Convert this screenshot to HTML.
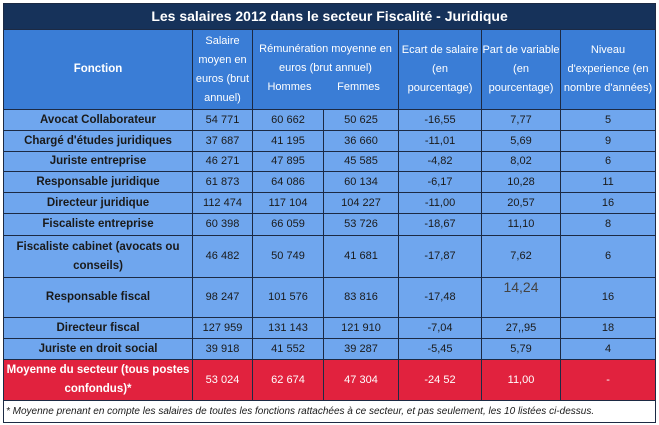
<!DOCTYPE html>
<html><head><meta charset="utf-8"><style>
body{margin:0;background:#fff;width:659px;height:425px;overflow:hidden;font-family:"Liberation Sans",Arial,sans-serif}
table{position:absolute;left:3px;top:3px;border-collapse:collapse;table-layout:fixed;width:652px}
td{border:1px solid #1c2a44;padding:0;text-align:center;font-size:11px;color:#1a1a1a;background:#6fa6ee;line-height:19px;overflow:hidden}
td.f{font-weight:bold;font-size:11.5px}
tr.t td{background:#16325a;color:#fff;font-weight:bold;font-size:14px;height:25px}
tr.h td{background:#3a7dd6;color:#fff;line-height:19px;height:79px}
tr.h td.f{font-size:11.5px}
tr.r td{background:#e1223e;color:#fff}
tr.n td{background:#fff;text-align:left;font-style:italic;font-size:10px;padding-left:2px;height:21px}
.hf{white-space:nowrap;font-size:0}
.hf span{display:inline-block;font-size:11px}
</style></head><body>
<table>
<col style="width:189px"><col style="width:60px"><col style="width:71px"><col style="width:75px"><col style="width:83px"><col style="width:79px"><col style="width:95px">
<tr class="t"><td colspan="7">Les salaires 2012 dans le secteur Fiscalité - Juridique</td></tr>
<tr class="h"><td class="f">Fonction</td><td>Salaire moyen en euros (brut annuel)</td><td colspan="2">Rémunération moyenne en euros (brut annuel)<div class="hf"><span style="width:66px">Hommes</span><span style="width:72px">Femmes</span></div></td><td>Ecart de salaire (en pourcentage)</td><td>Part de variable (en pourcentage)</td><td>Niveau d'experience (en nombre d'années)</td></tr>
<tr style="height:21px"><td class="f">Avocat Collaborateur</td><td>54 771</td><td>60 662</td><td>50 625</td><td>-16,55</td><td>7,77</td><td>5</td></tr>
<tr style="height:21px"><td class="f">Chargé d'études juridiques</td><td>37 687</td><td>41 195</td><td>36 660</td><td>-11,01</td><td>5,69</td><td>9</td></tr>
<tr style="height:20px"><td class="f">Juriste entreprise</td><td>46 271</td><td>47 895</td><td>45 585</td><td>-4,82</td><td>8,02</td><td>6</td></tr>
<tr style="height:21px"><td class="f">Responsable juridique</td><td>61 873</td><td>64 086</td><td>60 134</td><td>-6,17</td><td>10,28</td><td>11</td></tr>
<tr style="height:21px"><td class="f">Directeur juridique</td><td>112 474</td><td>117 104</td><td>104 227</td><td>-11,00</td><td>20,57</td><td>16</td></tr>
<tr style="height:22px"><td class="f">Fiscaliste entreprise</td><td>60 398</td><td>66 059</td><td>53 726</td><td>-18,67</td><td>11,10</td><td>8</td></tr>
<tr style="height:42px"><td class="f">Fiscaliste cabinet (avocats ou conseils)</td><td>46 482</td><td>50 749</td><td>41 681</td><td>-17,87</td><td>7,62</td><td>6</td></tr>
<tr style="height:40px"><td class="f">Responsable fiscal</td><td>98 247</td><td>101 576</td><td>83 816</td><td>-17,48</td><td style="vertical-align:top;font-size:14px;color:#444">14,24</td><td>16</td></tr>
<tr style="height:21px"><td class="f">Directeur fiscal</td><td>127 959</td><td>131 143</td><td>121 910</td><td>-7,04</td><td>27,,95</td><td>18</td></tr>
<tr style="height:21px"><td class="f">Juriste en droit social</td><td>39 918</td><td>41 552</td><td>39 287</td><td>-5,45</td><td>5,79</td><td>4</td></tr>
<tr class="r" style="height:41px"><td class="f">Moyenne du secteur (tous postes confondus)*</td><td>53 024</td><td>62 674</td><td>47 304</td><td>-24 52</td><td>11,00</td><td>-</td></tr>
<tr class="n"><td colspan="7">* Moyenne prenant en compte les salaires de toutes les fonctions rattachées à ce secteur, et pas seulement, les 10 listées ci-dessus.</td></tr>
</table>
</body></html>
